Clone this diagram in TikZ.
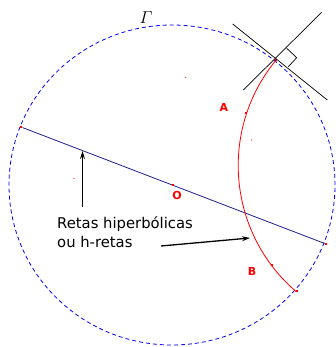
\documentclass[tikz,border=0pt]{standalone}
\usepackage{amsmath}
\usepackage{fontspec}
\newfontfamily\labelfont{DejaVu Sans}
\usetikzlibrary{arrows.meta}
\definecolor{navy}{RGB}{30,30,140}
\tikzset{
  bdry/.style={blue, dashed, dash pattern=on 4pt off 3pt, line width=0.8pt},
  hline/.style={navy, line width=0.8pt},
  harc/.style={red, line width=0.8pt},
  tang/.style={black, line width=0.7pt},
  rdot/.style={rectangle, fill=red, inner sep=0pt, minimum size=2.6pt},
  tinydot/.style={circle, fill=red, inner sep=0pt, minimum size=1.2pt},
  ptlabel/.style={red, font=\labelfont\bfseries\fontsize{11}{11}\selectfont, inner sep=0pt},
  callout/.style={-{Stealth[length=8pt,width=5pt]}, line width=1.3pt, black},
}
\begin{document}
\begin{tikzpicture}[x=1pt,y=1pt]
\useasboundingbox (0,0) rectangle (336,347);
% boundary circle Gamma
\draw[bdry] (172,162) ellipse [x radius=163, y radius=160];
\node[inner sep=0pt] (gamma) at (146,329) {\fontsize{18}{18}\selectfont$\varGamma$};
% diameter (h-line)
\node[rdot] (d1) at (21,220) {};
\node[rdot] (d2) at (326,103) {};
\draw[hline] (d1) -- (d2);
\node[rdot] (O) at (173,162) {};
\node[ptlabel] (Olab) at (177,152) {O};
% orthogonal arc
\coordinate (C) at (404.2,181.4);
\draw[harc] (C) ++(140.5:166) arc[start angle=140.5, end angle=229.5, radius=166];
\node[rdot] (P1) at (276,287) {};
\node[rdot] (P2) at (297,56) {};
\node[rdot] (Am) at (246,234) {};
\node[rdot] (Bm) at (272,82) {};
\node[ptlabel] (Alab) at (224,240) {A};
\node[ptlabel] (Blab) at (252,76) {B};
% tiny dots
\node[tinydot] (t1) at (185.7,269.7) {};
\node[tinydot] (t2) at (251.7,207) {};
\node[tinydot] (t3) at (74,168.7) {};
% tangent lines with right angle
\coordinate (L1a) at (232.7,323);
\coordinate (L1b) at (327.3,247);
\coordinate (L2a) at (321.7,334.7);
\coordinate (L2b) at (243.3,257);
\draw[tang] (L1a) -- (L1b);
\draw[tang] (L2a) -- (L2b);
\coordinate (X) at (275,287.7);
\coordinate (R1) at (286.7,298.7);
\coordinate (R2) at (296.7,289.3);
\coordinate (R3) at (288.3,280.3);
\draw[tang] (R1) -- (R2) -- (R3);
% callout text and arrows
\node[font=\labelfont\fontsize{14.8}{19}\selectfont, align=left, anchor=north west, inner sep=0pt] (txt) at (57,131) {Retas hiperbólicas\\ou h-retas};
\coordinate (a1s) at (82.5,140);
\coordinate (a1e) at (82.5,196);
\coordinate (a2s) at (161,101);
\coordinate (a2e) at (250,109);
\draw[callout] (a1s) -- (a1e);
\draw[callout] (a2s) -- (a2e);
\end{tikzpicture}
\end{document}
